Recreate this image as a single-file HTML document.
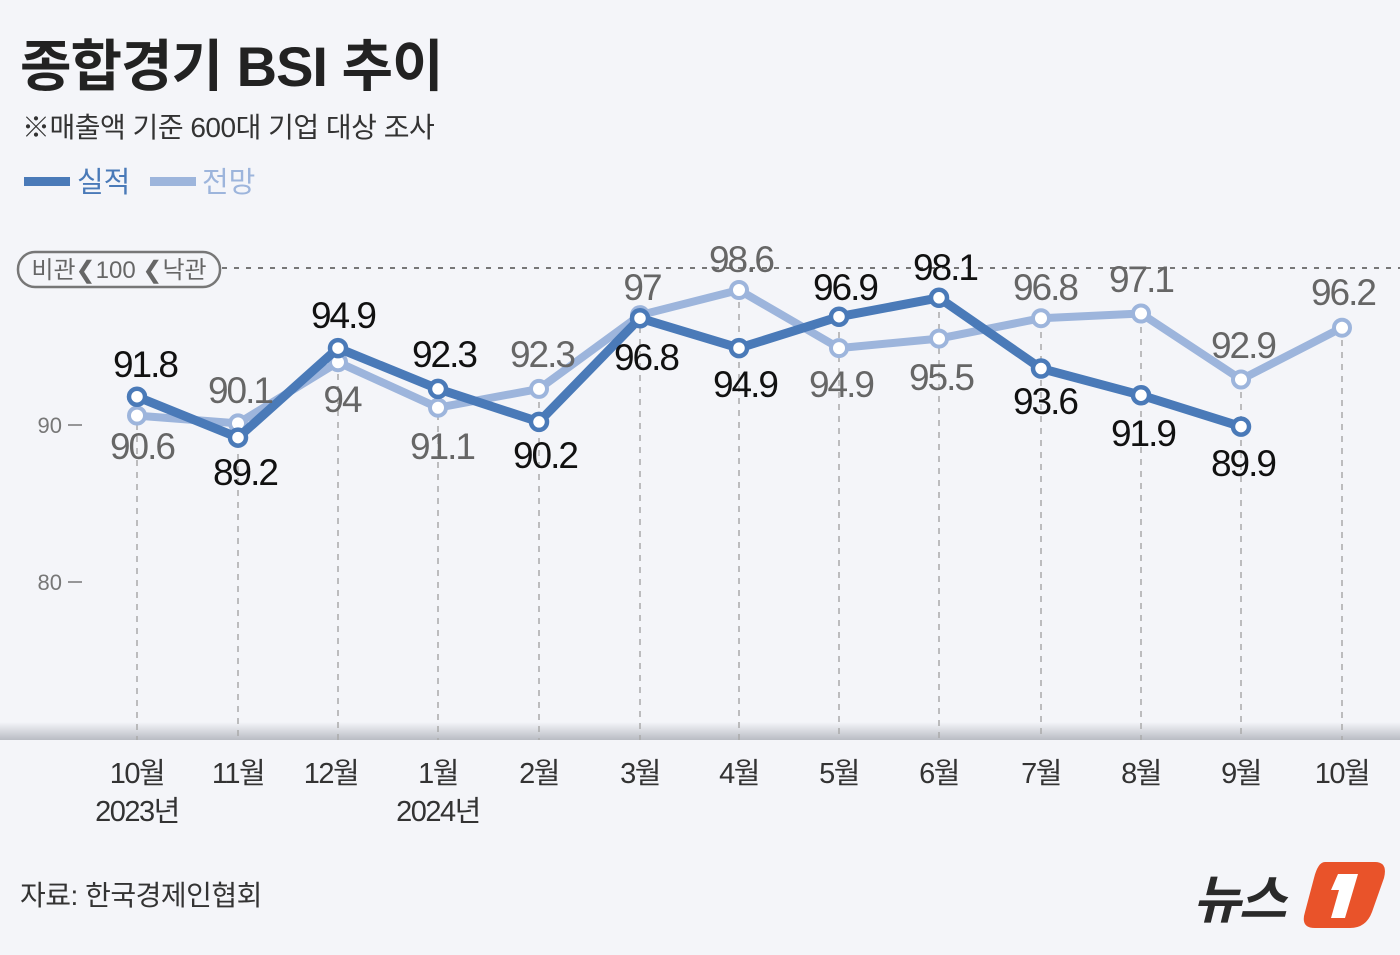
<!DOCTYPE html>
<html><head><meta charset="utf-8"><style>
body{margin:0;width:1400px;height:950px;background:#f4f5f9;overflow:hidden;font-family:"Liberation Sans","Noto Sans CJK KR",sans-serif}
</style></head><body>
<svg width="1400" height="950" xmlns="http://www.w3.org/2000/svg" style="font-family:'Liberation Sans','Noto Sans CJK KR',sans-serif">
<defs><linearGradient id="g" x1="0" y1="0" x2="0" y2="1"><stop offset="0" stop-color="#f4f5f9"/><stop offset="1" stop-color="#b9bcc3"/></linearGradient></defs>
<rect width="1400" height="950" fill="#f4f5f9"/>
<text x="20" y="86" font-size="56" font-weight="bold" fill="#222" letter-spacing="-1">종합경기 BSI 추이</text>
<text x="22" y="137" font-size="28" fill="#333" letter-spacing="-0.5">※매출액 기준 600대 기업 대상 조사</text>
<rect x="24" y="177" width="46" height="9" fill="#4a7ab8"/>
<text x="77" y="192" font-size="29" fill="#4a7ab8">실적</text>
<rect x="150" y="177" width="46" height="9" fill="#9db5dc"/>
<text x="202" y="192" font-size="29" fill="#9db5dc">전망</text>
<rect x="0" y="722" width="1400" height="18" fill="url(#g)"/>
<line x1="222" y1="268" x2="1400" y2="268" stroke="#777" stroke-width="2" stroke-dasharray="5,7"/>
<rect x="18" y="252" width="202" height="35" rx="17" fill="#f4f5f9" stroke="#777" stroke-width="2.5"/>
<text x="119" y="278" font-size="24" fill="#666" text-anchor="middle">비관❮100 ❮낙관</text>
<text x="62" y="433" font-size="22" fill="#777" text-anchor="end">90</text><line x1="68" y1="425" x2="82" y2="425" stroke="#777" stroke-width="1.5"/>
<text x="62" y="590" font-size="22" fill="#777" text-anchor="end">80</text><line x1="68" y1="582" x2="82" y2="582" stroke="#777" stroke-width="1.5"/>
<g stroke="#aaa" stroke-width="1.5" stroke-dasharray="6,6">
<line x1="137" y1="400" x2="137" y2="740"/><line x1="238" y1="430" x2="238" y2="740"/><line x1="338" y1="350" x2="338" y2="740"/><line x1="438" y1="390" x2="438" y2="740"/><line x1="539" y1="390" x2="539" y2="740"/><line x1="640" y1="315" x2="640" y2="740"/><line x1="739" y1="290" x2="739" y2="740"/><line x1="839" y1="320" x2="839" y2="740"/><line x1="939" y1="300" x2="939" y2="740"/><line x1="1041" y1="320" x2="1041" y2="740"/><line x1="1141" y1="315" x2="1141" y2="740"/><line x1="1241" y1="380" x2="1241" y2="740"/><line x1="1342" y1="328" x2="1342" y2="740"/>
</g>
<polyline fill="none" stroke="#9db5dc" stroke-width="8" stroke-linejoin="round" points="137,415.6 238,423.4 338,362.2 438,407.7 539,388.9 640,315.1 739,290 839,348.1 939,338.6 1041,318.2 1141,313.5 1241,379.5 1342,327.7"/>
<g fill="#fff" stroke="#9db5dc" stroke-width="4">
<circle cx="137" cy="415.6" r="8"/><circle cx="238" cy="423.4" r="8"/><circle cx="338" cy="362.2" r="8"/><circle cx="438" cy="407.7" r="8"/><circle cx="539" cy="388.9" r="8"/><circle cx="640" cy="315.1" r="8"/><circle cx="739" cy="290" r="8"/><circle cx="839" cy="348.1" r="8"/><circle cx="939" cy="338.6" r="8"/><circle cx="1041" cy="318.2" r="8"/><circle cx="1141" cy="313.5" r="8"/><circle cx="1241" cy="379.5" r="8"/><circle cx="1342" cy="327.7" r="8"/>
</g>
<polyline fill="none" stroke="#4a7ab8" stroke-width="9" stroke-linejoin="round" points="137,396.7 238,437.6 338,348.1 438,388.9 539,421.9 640,318.2 739,348.1 839,316.7 939,297.8 1041,368.5 1141,395.2 1241,426.6"/>
<g fill="#fff" stroke="#4a7ab8" stroke-width="4.5">
<circle cx="137" cy="396.7" r="8"/><circle cx="238" cy="437.6" r="8"/><circle cx="338" cy="348.1" r="8"/><circle cx="438" cy="388.9" r="8"/><circle cx="539" cy="421.9" r="8"/><circle cx="640" cy="318.2" r="8"/><circle cx="739" cy="348.1" r="8"/><circle cx="839" cy="316.7" r="8"/><circle cx="939" cy="297.8" r="8"/><circle cx="1041" cy="368.5" r="8"/><circle cx="1141" cy="395.2" r="8"/><circle cx="1241" cy="426.6" r="8"/>
</g>
<g font-size="37" fill="#666" text-anchor="middle" letter-spacing="-2">
<text x="142" y="459">90.6</text><text x="240" y="403">90.1</text><text x="342" y="412">94</text><text x="442" y="459">91.1</text><text x="542" y="367">92.3</text><text x="642" y="300">97</text><text x="741" y="272">98.6</text><text x="841" y="397">94.9</text><text x="941" y="390">95.5</text><text x="1045" y="300">96.8</text><text x="1141" y="292">97.1</text><text x="1243" y="358">92.9</text><text x="1343" y="305">96.2</text>
</g>
<g font-size="37" fill="#111" text-anchor="middle" letter-spacing="-2">
<text x="145" y="377">91.8</text><text x="245" y="485">89.2</text><text x="343" y="328">94.9</text><text x="444" y="367">92.3</text><text x="545" y="468">90.2</text><text x="646" y="370">96.8</text><text x="745" y="397">94.9</text><text x="845" y="300">96.9</text><text x="945" y="280">98.1</text><text x="1045" y="414">93.6</text><text x="1143" y="446">91.9</text><text x="1243" y="476">89.9</text>
</g>
<g font-size="29" fill="#333" text-anchor="middle" letter-spacing="-1.5">
<text x="137" y="783">10월</text><text x="137" y="821">2023년</text><text x="238" y="783">11월</text><text x="331" y="783">12월</text><text x="438" y="783">1월</text><text x="438" y="821">2024년</text><text x="539" y="783">2월</text><text x="640" y="783">3월</text><text x="739" y="783">4월</text><text x="839" y="783">5월</text><text x="939" y="783">6월</text><text x="1041" y="783">7월</text><text x="1141" y="783">8월</text><text x="1241" y="783">9월</text><text x="1342" y="783">10월</text>
</g>
<text x="20" y="905" font-size="28" fill="#333" letter-spacing="-0.5">자료: 한국경제인협회</text>
<text x="1193" y="918" font-size="52" font-weight="bold" fill="#2a2a2a" font-style="italic" letter-spacing="-2">뉴스</text>
<path d="M1325 862 L1375 862 Q1388 862 1384 878 L1372 912 Q1366 928 1350 928 L1315 928 Q1300 928 1305 912 L1314 878 Q1318 862 1325 862Z" fill="#e9532a"/>
<path d="M1338 874 L1358 874 L1345 918 L1331 918 L1339 890 L1331 890Z" fill="#fff"/>
</svg>
</body></html>
